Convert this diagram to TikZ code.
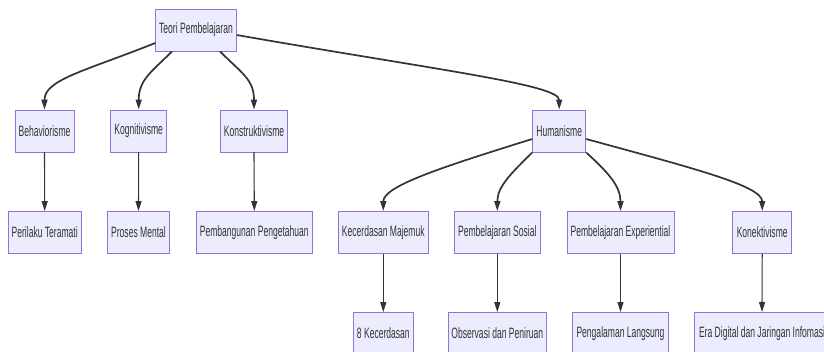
\documentclass[tikz,border=0pt]{standalone}
\usepackage{fontspec}
\setmainfont{Liberation Sans}[FakeStretch=0.57]
\usetikzlibrary{arrows.meta}
\definecolor{boxfill}{HTML}{ECECFF}
\definecolor{boxline}{HTML}{9370DB}
\definecolor{ink}{HTML}{333333}
\tikzset{
  box/.style={draw=boxline, fill=boxfill, line width=0.9pt, rectangle,
    minimum height=42pt, inner xsep=1pt, inner ysep=0pt, text=ink,
    font=\fontsize{15}{18}\selectfont},
  edge/.style={draw=ink, line width=1.7pt,
    -{Triangle[length=10pt,width=6pt]}},
  down/.style={edge, line width=1.1pt}
}
\begin{document}
\begin{tikzpicture}[x=1pt, y=-1pt]
\useasboundingbox (0,0) rectangle (824,351);
\clip (0,0) rectangle (824,351);
\fill[white] (0,0) rectangle (824,351);

% top level
\node[box, minimum width=80.6pt] (teori) at (196,30) {Teori Pembelajaran};

% theories
\node[box, minimum width=59pt]   (behav)  at (44.5,131)  {Behaviorisme};
\node[box, minimum width=56pt]   (kogn)   at (138.7,131) {Kognitivisme};
\node[box, minimum width=67.7pt] (konstr) at (254,131)   {Konstruktivisme};
\node[box, minimum width=53pt]   (human)  at (559.2,131) {Humanisme};

% second row
\node[box, minimum width=73.3pt] (peril)  at (44.7,232.5)  {Perilaku Teramati};
\node[box, minimum width=62.4pt] (proses) at (138.5,232.5) {Proses Mental};
\node[box, minimum width=116pt]  (pemb)   at (254.3,232.5) {Pembangunan Pengetahuan};
\node[box, minimum width=90pt]   (kecer)  at (383.3,232.5) {Kecerdasan Majemuk};
\node[box, minimum width=86pt]   (sosial) at (497.3,232.5) {Pembelajaran Sosial};
\node[box, minimum width=107pt]  (exper)  at (620.5,232.5) {Pembelajaran Experiential};
\node[box, minimum width=59pt]   (konek)  at (762.2,232.5) {Konektivisme};

% third row
\node[box, minimum width=60pt]    (delapan) at (383.3,333.5) {8 Kecerdasan};
\node[box, minimum width=98.7pt]  (obs)     at (497.3,333.5) {Observasi dan Peniruan};
\node[box, minimum width=95.6pt]  (peng)    at (620.5,333.5) {Pengalaman Langsung};
\node[box, minimum width=135.4pt] (era)     at (762,333.5)   {Era Digital dan Jaringan Infomasi};

% branches from the root
\draw[edge] ([yshift=-13pt]teori.west) .. controls +(-70,28) and +(0,-30) .. (behav.north);
\draw[edge] ([xshift=-24pt]teori.south) .. controls +(-20,20) and +(0,-30) .. (kogn.north);
\draw[edge] ([xshift=24pt]teori.south) .. controls +(22,22) and +(0,-30) .. (konstr.north);
\draw[edge] ([yshift=-5pt]teori.east) .. controls +(200,35) and +(0,-25) .. (human.north);

% branches from Humanisme
\draw[edge] ([yshift=-8pt]human.west) .. controls +(-90,28) and +(0,-25) .. (kecer.north);
\draw[edge] (human.south west) .. controls +(-20,20) and +(0,-25) .. (sosial.north);
\draw[edge] (human.south east) .. controls +(22,20) and +(0,-25) .. (exper.north);
\draw[edge] ([yshift=-8pt]human.east) .. controls +(110,30) and +(0,-25) .. (konek.north);

% straight links
\draw[down] (behav.south)  -- (peril.north);
\draw[down] (kogn.south)   -- (proses.north);
\draw[down] (konstr.south) -- (pemb.north);
\draw[down] (kecer.south)  -- (delapan.north);
\draw[down] (sosial.south) -- (obs.north);
\draw[down] (exper.south)  -- (peng.north);
\draw[down] (konek.south)  -- (era.north);
\end{tikzpicture}
\end{document}
